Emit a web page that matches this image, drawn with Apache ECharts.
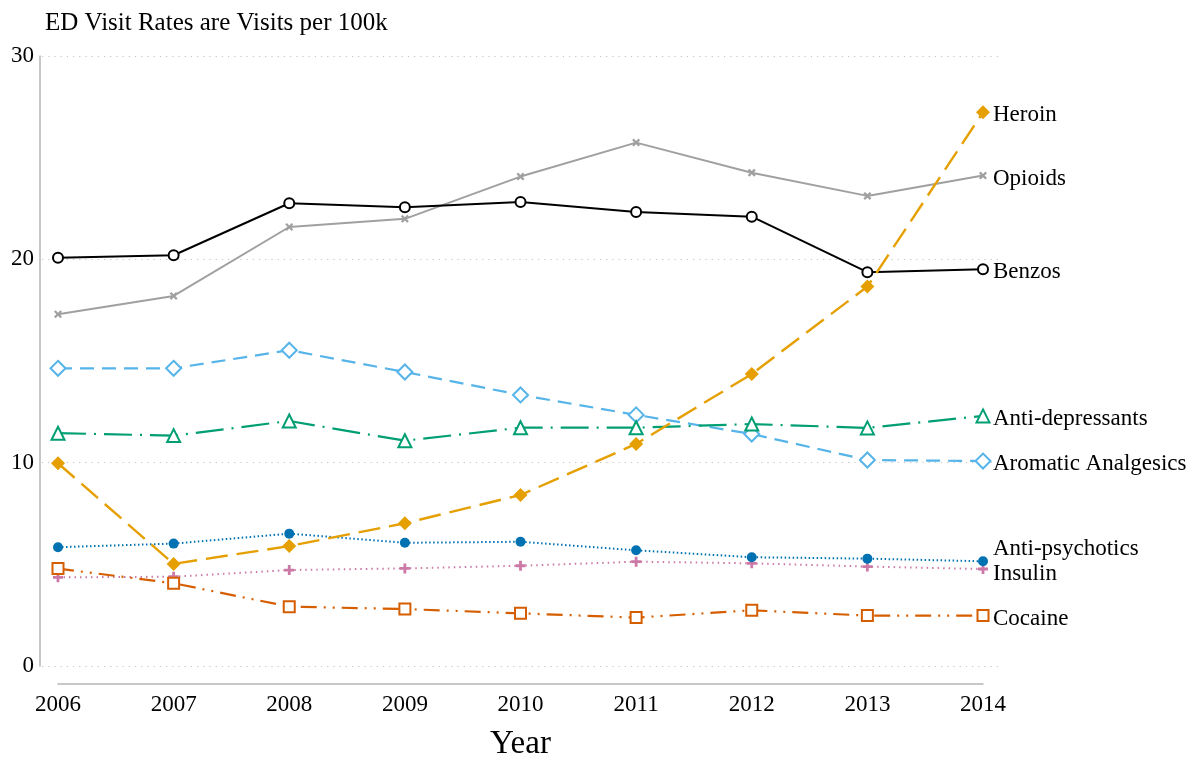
<!doctype html>
<html>
<head>
<meta charset="utf-8">
<title>ED Visit Rates</title>
<script src="https://cdn.jsdelivr.net/npm/echarts@6/dist/echarts.min.js"></script>
<style>
  html, body { margin: 0; padding: 0; background: #fff; }
  #chart { width: 1197px; height: 759px; }
</style>
</head>
<body>
<div id="chart"></div>
<script>
// values (visits per 100k)
var years = [2006, 2007, 2008, 2009, 2010, 2011, 2012, 2013, 2014];
var yTicks = [0, 10, 20, 30];
var benzos = [20.08, 20.20, 22.76, 22.56, 22.82, 22.33, 22.10, 19.37, 19.51];
var opioids = [17.30, 18.20, 21.59, 21.99, 24.07, 25.74, 24.26, 23.12, 24.12];
var aromatic = [14.64, 14.64, 15.53, 14.46, 13.33, 12.35, 11.41, 10.13, 10.08];
var antiDep = [11.45, 11.33, 12.05, 11.08, 11.72, 11.72, 11.90, 11.71, 12.30];
var heroin = [9.97, 5.02, 5.90, 7.02, 8.41, 10.92, 14.36, 18.66, 27.23];
var antiPsych = [5.84, 6.02, 6.51, 6.06, 6.11, 5.69, 5.35, 5.28, 5.15];
var insulin = [4.36, 4.39, 4.72, 4.80, 4.93, 5.13, 5.05, 4.89, 4.77];
var cocaine = [4.79, 4.07, 2.92, 2.80, 2.59, 2.38, 2.74, 2.48, 2.48];

var FONT = '"Liberation Serif", "DejaVu Serif", serif';
var X_SYMBOL = 'path://M0,2L2,0L5,3L8,0L10,2L7,5L10,8L8,10L5,7L2,10L0,8L3,5Z';
var PLUS_SYMBOL = 'path://M3.6,0H6.4V3.6H10V6.4H6.4V10H3.6V6.4H0V3.6H3.6Z';

function pairs(vals) {
  return years.map(function (y, i) { return [y, vals[i]]; });
}

function makeSeries(name, vals, color, dash, symbol, size, labelOffset, width) {
  return {
    name: name,
    type: 'line',
    xAxisIndex: 0,
    yAxisIndex: 0,
    data: pairs(vals),
    symbol: symbol,
    symbolSize: size,
    showAllSymbol: true,
    lineStyle: { color: color, width: width || 2, type: dash },
    itemStyle: { color: color, borderColor: color, borderWidth: symbol.indexOf('empty') === 0 ? 2.4 : 0 },
    endLabel: {
      show: true,
      formatter: '{a}',
      distance: 10,
      offset: labelOffset || [0, 3],
      color: '#000',
      fontFamily: FONT,
      fontSize: 23
    },
    emphasis: { disabled: true },
    z: 3
  };
}

var chart = echarts.init(document.getElementById('chart'));
chart.setOption({
  animation: false,
  backgroundColor: '#fff',
  title: {
    text: 'ED Visit Rates are Visits per 100k',
    left: 40,
    top: 6,
    textStyle: { fontFamily: FONT, fontSize: 25, fontWeight: 'normal', color: '#000' }
  },
  grid: [
    { left: 58, right: 214, top: 56, bottom: 93, outerBoundsMode: 'none', containLabel: false },
    { left: 42, right: 199, top: 56, bottom: 93, outerBoundsMode: 'none', containLabel: false }
  ],
  xAxis: [{
    type: 'value',
    gridIndex: 0,
    min: 2006,
    max: 2014,
    interval: 1,
    offset: 18,
    name: 'Year',
    nameLocation: 'middle',
    nameGap: 44,
    nameTextStyle: { fontFamily: FONT, fontSize: 33, color: '#000' },
    axisLine: { show: true, onZero: false, lineStyle: { color: '#b5b5b5', width: 1.5 } },
    axisTick: { show: false },
    splitLine: { show: false },
    axisLabel: { fontFamily: FONT, fontSize: 23, color: '#000', margin: 9, formatter: function (v) { return String(v); } }
  }, {
    type: 'value',
    gridIndex: 1,
    min: 0,
    max: 1,
    show: false
  }],
  yAxis: [{
    type: 'value',
    gridIndex: 0,
    min: yTicks[0],
    max: yTicks[yTicks.length - 1],
    interval: 10,
    offset: 18,
    axisLine: { show: true, onZero: false, lineStyle: { color: '#b5b5b5', width: 1.5 } },
    axisTick: { show: false },
    splitLine: { show: false },
    axisLabel: { fontFamily: FONT, fontSize: 23, color: '#000', margin: 6, padding: [4, 0, 0, 0] }
  }, {
    type: 'value',
    gridIndex: 1,
    min: yTicks[0],
    max: yTicks[yTicks.length - 1],
    interval: 10,
    axisLine: { show: false },
    axisTick: { show: false },
    axisLabel: { show: false },
    splitLine: { show: true, lineStyle: { color: '#c4c4c4', width: 1.2, type: [1.2, 5] } }
  }],
  series: [
    makeSeries('Opioids', opioids, '#a0a0a0', 'solid', X_SYMBOL, 8),
    makeSeries('Benzos', benzos, '#000000', 'solid', 'emptyCircle', 10),
    makeSeries('Aromatic Analgesics', aromatic, '#56B4E9', [14, 8], 'emptyDiamond', 15, null, 2.2),
    makeSeries('Anti-depressants', antiDep, '#009E73', [28, 8, 2, 8], 'emptyTriangle', 13, null, 2.2),
    makeSeries('Insulin', insulin, '#CC79A7', [1.5, 4], PLUS_SYMBOL, 10, [0, 5]),
    makeSeries('Anti-psychotics', antiPsych, '#0072B2', [1.5, 2.5], 'circle', 10, [0, -12]),
    makeSeries('Cocaine', cocaine, '#D55E00', [16, 7, 2, 7, 2, 7], 'emptyRect', 11, null, 2.2),
    makeSeries('Heroin', heroin, '#E69F00', [22, 9], 'diamond', 14, [0, 3], 2.4)
  ]
});
</script>
</body>
</html>
